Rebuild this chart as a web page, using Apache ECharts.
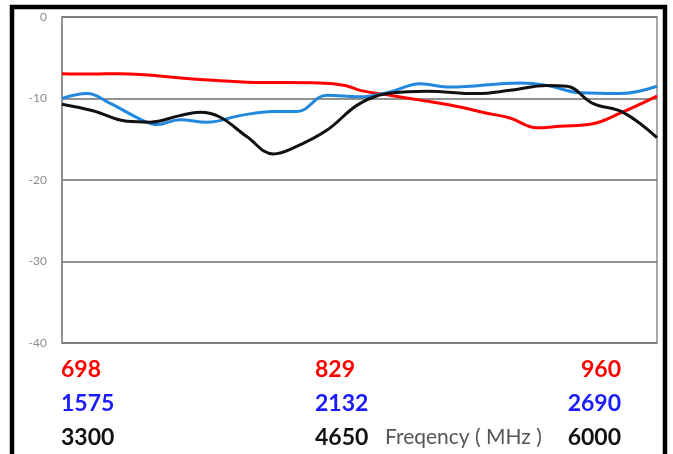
<!DOCTYPE html>
<html>
<head>
<meta charset="utf-8">
<script src="https://cdn.jsdelivr.net/npm/echarts@6/dist/echarts.min.js"></script>
<style>
  html, body { margin: 0; padding: 0; background: #fff; }
  #chart { width: 673px; height: 454px; }
</style>
</head>
<body>
<div id="chart"></div>
<script>
  // position along the band (0..100 %) and return loss in dB
  var redData = [
    [0, -6.95], [5.2, -7.0], [9.7, -6.95], [22.0, -7.6], [31.1, -8.0],
    [43.4, -8.1], [47.6, -8.4], [50.1, -9.0], [55.1, -9.6], [60.2, -10.2],
    [65.2, -10.8], [71.4, -11.8], [75.3, -12.4], [79.8, -13.6], [83.7, -13.4],
    [89.2, -13.1], [93.8, -11.8], [100, -9.7]
  ];
  var blueData = [
    [0, -10.0], [4.2, -9.4], [8.1, -10.6], [13.6, -12.7], [16.0, -13.2],
    [19.8, -12.6], [24.4, -12.9], [29.9, -12.1], [35.5, -11.6], [39.5, -11.6],
    [44.5, -9.6], [50.1, -9.8], [55.1, -9.2], [60.2, -8.2], [65.2, -8.6],
    [77.0, -8.1], [81.5, -8.4], [87.1, -9.3], [93.8, -9.4], [100, -8.5]
  ];
  var blackData = [
    [0, -10.7], [5.2, -11.5], [10.9, -12.8], [14.8, -12.9], [19.8, -12.1],
    [23.2, -11.7], [26.6, -12.3], [31.1, -14.7], [35.5, -16.8], [38.8, -16.1],
    [44.5, -13.9], [50.1, -10.6], [55.6, -9.3], [61.3, -9.1], [69.7, -9.4],
    [75.3, -9.0], [81.5, -8.4], [84.9, -8.5], [89.2, -10.6], [94.3, -11.7],
    [100, -14.8]
  ];

  // frequency labels under the plot: start, middle, end of each band
  var redBand = ["698", "829", "960"];
  var blueBand = ["1575", "2132", "2690"];
  var blackBand = ["3300", "4650", "6000"];
  var axisTitle = "Freqency ( MHz )";

  var RED = "#ff0000", BLUE_LINE = "#2288dd", BLUE_TEXT = "#1a1aff", BLACK = "#111111";

  function bandRow(labels, color, y) {
    var font = "bold 23px Lato";
    return [
      { type: "text", left: 61, top: y, style: { text: labels[0], fill: color, font: font } },
      { type: "text", left: 315, top: y, style: { text: labels[1], fill: color, font: font } },
      { type: "text", right: 52, top: y, style: { text: labels[2], fill: color, font: font } }
    ];
  }

  var graphics = [
    // outer black frame (bottom edge runs off the picture)
    {
      type: "rect",
      shape: { x: 12, y: 7, width: 653, height: 470 },
      style: { fill: "none", stroke: "#000", lineWidth: 4.5 },
      z: 10
    }
  ];
  graphics = graphics
    .concat(bandRow(redBand, RED, 358))
    .concat(bandRow(blueBand, BLUE_TEXT, 392))
    .concat(bandRow(blackBand, BLACK, 426));
  graphics.push({
    type: "text", left: 385, top: 427,
    style: { text: axisTitle, fill: "#555", font: "21px Lato" }
  });

  var chart = echarts.init(document.getElementById("chart"));
  chart.setOption({
    animation: false,
    grid: {
      left: 62, right: 16, top: 17, bottom: 111,
      show: true, borderColor: "#8a8a8a", borderWidth: 1.5
    },
    xAxis: {
      type: "value", min: 0, max: 100,
      axisLine: { show: false }, axisTick: { show: false },
      axisLabel: { show: false }, splitLine: { show: false }
    },
    yAxis: {
      type: "value", min: -40, max: 0, interval: 10,
      axisLine: { show: true, lineStyle: { color: "#8a8a8a", width: 1.5 } },
      axisTick: { show: false },
      axisLabel: { color: "#8c8c8c", fontSize: 12, fontFamily: "Lato", margin: 15 },
      splitLine: { lineStyle: { color: "#6e6e6e", width: 1.5 } }
    },
    series: [
      { name: "red", type: "line", data: redData, smooth: 0.4, showSymbol: false,
        lineStyle: { color: RED, width: 3 }, z: 3 },
      { name: "blue", type: "line", data: blueData, smooth: 0.4, showSymbol: false,
        lineStyle: { color: BLUE_LINE, width: 3 }, z: 4 },
      { name: "black", type: "line", data: blackData, smooth: 0.4, showSymbol: false,
        lineStyle: { color: BLACK, width: 3 }, z: 5 }
    ],
    graphic: graphics
  });
</script>
</body>
</html>
